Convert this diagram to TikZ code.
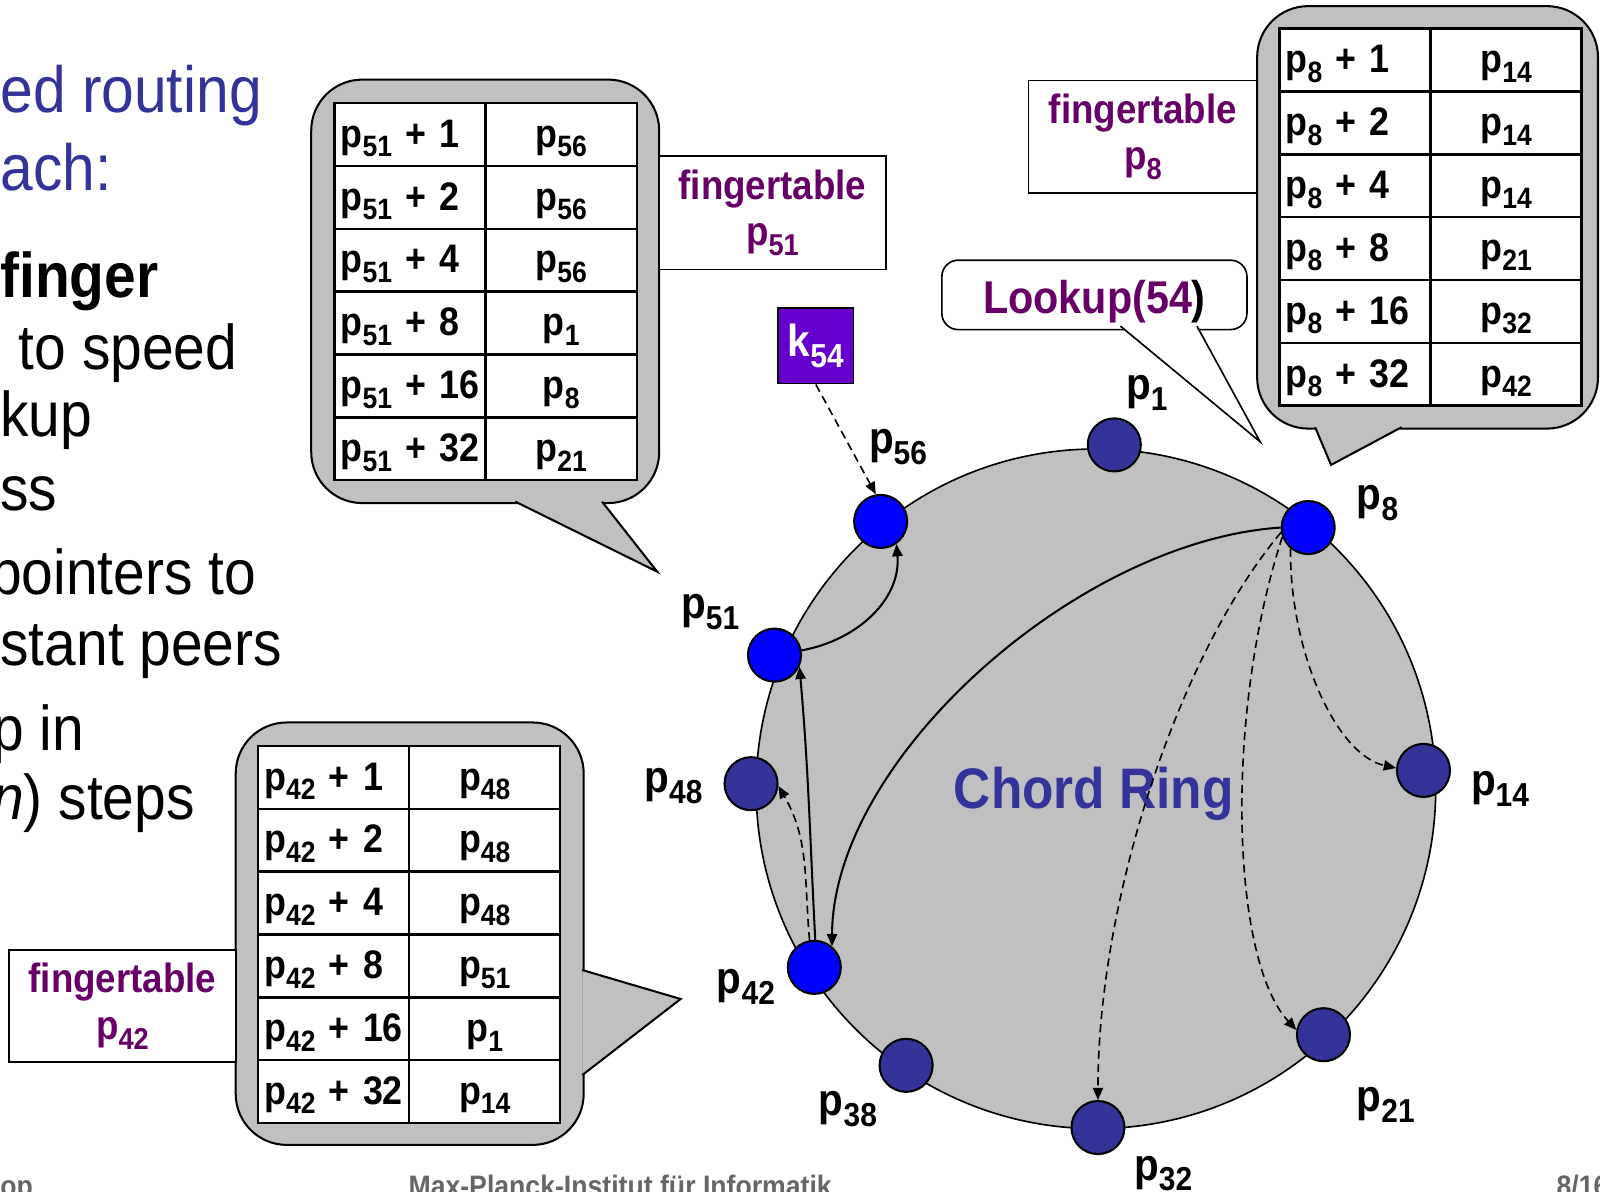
\documentclass[tikz,border=0pt]{standalone}
\usepackage{fontspec}
\setmainfont{Liberation Sans}[FakeStretch=0.9]
\usepackage{graphicx}
\usetikzlibrary{arrows.meta,positioning}
\definecolor{ringblue}{RGB}{51,51,153}
\definecolor{peerblue}{RGB}{0,0,255}
\definecolor{fingerpurple}{RGB}{102,0,102}
\definecolor{keyviolet}{RGB}{102,0,204}
\definecolor{bubblegray}{RGB}{192,192,192}
\definecolor{footgray}{RGB}{102,102,102}

% peer name with lowered index
\newcommand{\peer}[1]{p\raisebox{-0.24em}{\scalebox{0.74}{#1}}}

\begin{document}
\begin{tikzpicture}[x=1pt,y=-1pt,
  peer/.style={circle,draw,line width=1pt,minimum size=26pt,inner sep=0pt},
  darkpeer/.style={peer,fill=ringblue},
  hotpeer/.style={peer,fill=peerblue},
  plabel/.style={inner sep=0pt,font=\bfseries\fontsize{22}{24}\selectfont},
  cell/.style={draw,line width=1.2pt,fill=white,minimum width=74pt,minimum height=30.8pt,
    inner sep=0pt,outer sep=0pt,text height=17pt,text depth=4.5pt,
    font=\bfseries\fontsize{19.5}{22}\selectfont},
  cellL/.style={cell,text width=68pt,align=left},
  bubble/.style={draw,line width=1pt,fill=bubblegray,rounded corners=25pt},
  tail/.style={draw,line width=1pt,fill=bubblegray},
  ftbox/.style={draw,line width=.8pt,fill=white,align=center,text=fingerpurple,
    inner sep=0pt,font=\bfseries\fontsize{20}{23}\selectfont},
  hop/.style={line width=1pt,-{Triangle[length=6pt,width=5pt]}},
  lookhop/.style={hop,line width=.8pt,dash pattern=on 4pt off 2.5pt},
  slide/.style={anchor=base west,inner sep=0pt,font=\fontsize{31}{36}\selectfont},
  foot/.style={anchor=base west,inner sep=0pt,text=footgray,font=\bfseries\fontsize{14.5}{16}\selectfont}
]
\useasboundingbox (0,0) rectangle (784,584);
\clip (0,0) rectangle (784,584);

% the ring
\node[circle,draw,line width=.8pt,fill=bubblegray,minimum size=333pt,inner sep=0pt] (ring) at (537,386.5) {};
\node[text=ringblue,font=\bfseries\fontsize{28}{30}\selectfont] (chord) at (536,389) {Chord Ring};

\foreach \n/\x/\y/\s in {1/546/218/darkpeer, 8/641/258.5/hotpeer, 14/697.5/377.5/darkpeer,
    21/648.5/507/darkpeer, 32/538/552.5/darkpeer, 38/444/522/darkpeer, 42/399/474/hotpeer,
    48/368/384/darkpeer, 51/379.5/321/hotpeer, 56/431.5/255.5/hotpeer}
  \node[\s] (p\n) at (\x,\y) {};

\foreach \n/\x/\y in {1/562/192.5, 8/675/246.5, 14/735/386.5, 21/679/541.5, 32/570/575,
    38/415.5/543.5, 42/365.5/483.5, 48/330/385, 51/348/300, 56/440/219}
  \node[plabel] (lab\n) at (\x,\y) {\peer{\n}};

% routing hops
\draw[hop] (p8.west) .. controls (528,265) and (408,372) .. (p42.50);
\draw[hop] (p42.88) to[out=93,in=-85] (p51.-25);
\draw[hop] (p51.10) to[out=10,in=-85] (p56.-55);
\draw[lookhop] (p42.100) to[out=95,in=-60] (p48.-5);
\draw[lookhop] (p8.230) .. controls (632,320) and (655,370) .. (p14.175);
\draw[lookhop] (p8.200) .. controls (600,350) and (603,470) .. (p21.170);
\draw[lookhop] (p8.190) .. controls (578,320) and (538,440) .. (p32.north);

% key
\node[draw,line width=.8pt,fill=keyviolet,text=white,minimum size=37pt,inner sep=0pt,
  font=\bfseries\fontsize{22}{24}\selectfont] (k54) at (399.75,169.5) {k\raisebox{-0.24em}{\scalebox{0.74}{54}}};
\draw[lookhop] (k54.south) -- (p56.100);

% lookup call
\node[draw,line width=.8pt,fill=white,rounded corners=8pt,minimum width=149.5pt,minimum height=34pt,
  inner sep=0pt,text height=23pt,text depth=4.7pt,text=fingerpurple,
  font=\bfseries\fontsize{22.5}{24}\selectfont] (lookup) at (536.25,144.5) {Lookup(54\textcolor{black}{)}};
\draw[line width=.8pt,fill=white] (549,159.8) -- (617.5,216.5) -- (586.5,159.8);

% finger table of p51
\draw[bubble] (152.5,39) rectangle (323,246.5);
\draw[tail] (252.5,245.8) -- (322,280.1) -- (295,245.8);
\foreach \off/\dst [count=\i] in {1/56,2/56,4/56,8/1,16/8,32/21}{
  \node[cellL] (ft51-\i) at (201,{50.5+30.8*(\i-0.5)}) {\peer{51} + \off};
  \node[cell,right=0pt of ft51-\i] (ft51r-\i) {\peer{\dst}};
}
\node[ftbox,minimum width=111pt,minimum height=55.5pt] (ft51box) at (378.5,104.25) {fingertable\\\peer{51}};

% finger table of p8
\draw[bubble] (616,3) rectangle (783,210);
\draw[tail] (644.4,209.3) -- (652.2,227.8) -- (686.8,209.3);
\foreach \off/\dst [count=\i] in {1/14,2/14,4/14,8/21,16/32,32/42}{
  \node[cellL] (ft8-\i) at (664,{14+30.8*(\i-0.5)}) {\peer{8} + \off};
  \node[cell,right=0pt of ft8-\i] (ft8r-\i) {\peer{\dst}};
}
\node[ftbox,minimum width=112pt,minimum height=55pt] (ft8box) at (560,67) {fingertable\\\peer{8}};

% finger table of p42
\draw[bubble] (115.5,354) rectangle (286,561);
\draw[tail] (285.3,475.3) -- (333.5,489.5) -- (285.3,526.8);
\foreach \off/\dst [count=\i] in {1/48,2/48,4/48,8/51,16/1,32/14}{
  \node[cellL] (ft42-\i) at (163.5,{365.5+30.8*(\i-0.5)}) {\peer{42} + \off};
  \node[cell,right=0pt of ft42-\i] (ft42r-\i) {\peer{\dst}};
}
\node[ftbox,minimum width=111pt,minimum height=55pt] (ft42box) at (60,493) {fingertable\\\peer{42}};

% slide text
\node[slide,text=ringblue,font=\fontsize{32}{36}\selectfont] (head1) at (0,55) {ed routing};
\node[slide,text=ringblue,font=\fontsize{32}{36}\selectfont] (head2) at (0,93.5) {ach:};
\node[slide,font=\bfseries\fontsize{31}{36}\selectfont] (line1) at (0,146) {finger};
\node[slide] (line2) at (9,181) {to speed};
\node[slide] (line3) at (0,214) {kup};
\node[slide] (line4) at (0,250) {ss};
\node[slide] (line5) at (-5,291.5) {pointers to};
\node[slide] (line6) at (0,326) {stant peers};
\node[slide] (line7) at (-4,367.5) {p in};
\node[slide] (line8) at (-4,401.5) {{\itshape n}) steps};

\node[foot] (footl) at (0,586.4) {op};
\node[foot] (footm) at (200,586.4) {Max-Planck-Institut für Informatik};
\node[foot] (footr) at (762.5,586.4) {8/16};
\end{tikzpicture}
\end{document}
